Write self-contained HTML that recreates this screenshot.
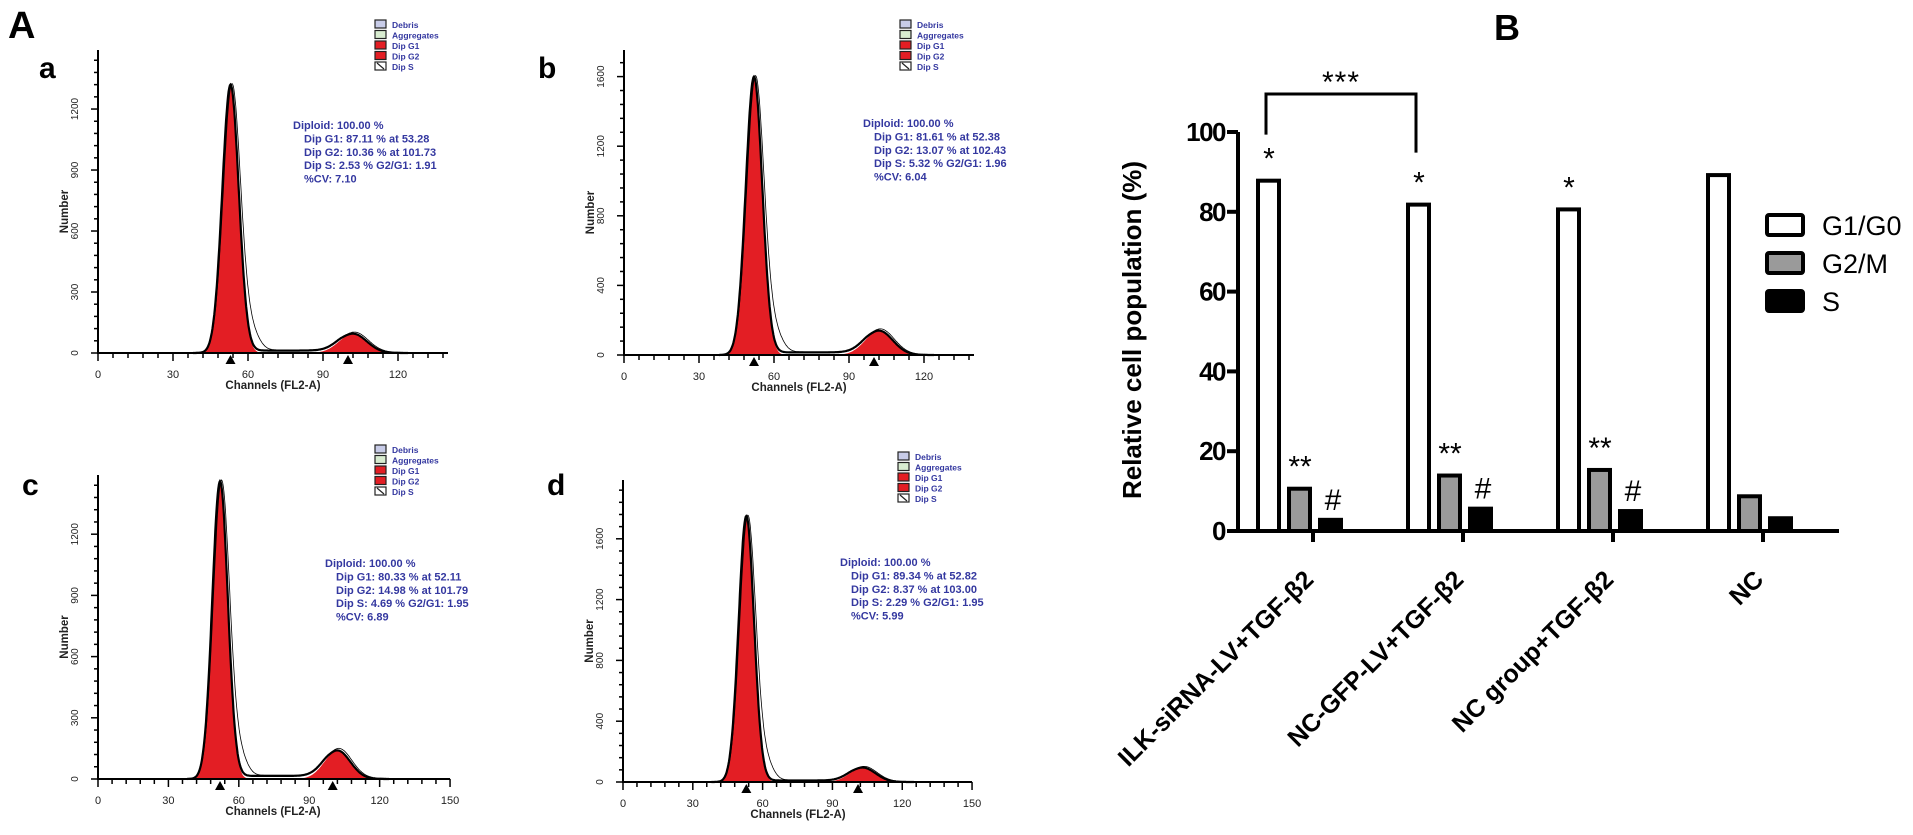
<!DOCTYPE html>
<html><head><meta charset="utf-8"><style>
html,body{margin:0;padding:0;background:#fff;}
svg{display:block;font-family:"Liberation Sans",Arial,sans-serif;}
</style></head><body>
<svg id="fig" width="1913" height="835" viewBox="0 0 1913 835" xmlns="http://www.w3.org/2000/svg">
<text x="8" y="38" font-size="38" font-weight="bold">A</text>
<text x="1494" y="40" font-size="36" font-weight="bold">B</text>
<g id="hists"></g>
<g id="bars"></g>
</svg>
<script>
// ===== Panel B data =====
const groups = ["ILK-siRNA-LV+TGF-β2","NC-GFP-LV+TGF-β2","NC group+TGF-β2","NC"];
const g1g0 = [87.8, 81.8, 80.6, 89.2];
const g2m = [10.6, 13.9, 15.3, 8.7];
const sPhase = [2.8, 5.6, 5.0, 3.2];
const yTicks = [0,20,40,60,80,100];
const g1Marks = ["*","*","*",""];
const g2Marks = ["**","**","**",""];
const sMarks = ["#","#","#",""];

// ===== Panel A data (flow histograms) =====
const panelIds = ["a","b","c","d"];
const g1Peak = [53, 52, 52, 53];
const g1Height = [1320, 1600, 1460, 1750];
const g2Peak = [102, 102, 102, 103];
const g2Height = [95, 140, 140, 95];
const sLevel = [12, 15, 15, 10];
const statsG1 = ["87.11 % at 53.28","81.61 % at 52.38","80.33 % at 52.11","89.34 % at 52.82"];
const statsG2 = ["10.36 % at 101.73","13.07 % at 102.43","14.98 % at 101.79","8.37 % at 103.00"];
const statsS = ["2.53 %","5.32 %","4.69 %","2.29 %"];
const statsRatio = ["1.91","1.96","1.95","1.95"];
const statsCV = ["7.10","6.04","6.89","5.99"];
const yTickSets = [[0,300,600,900,1200],[0,400,800,1200,1600],[0,300,600,900,1200],[0,400,800,1200,1600]];
const xTickSets = [[0,30,60,90,120],[0,30,60,90,120],[0,30,60,90,120,150],[0,30,60,90,120,150]];

const NS="http://www.w3.org/2000/svg";
function mk(tag, attrs, parent, txt){
  const e=document.createElementNS(NS,tag);
  for(const k in attrs) e.setAttribute(k,attrs[k]);
  if(txt!==undefined) e.textContent=txt;
  parent.appendChild(e); return e;
}

// layout (not data)
const layout=[
 {ox:98,oy:353,kx:2.5,ky:0.2033,xmax:140,ytop:50,lx:39,ly:78,sx:293,sy:125,gx:375,gy:20},
 {ox:624,oy:355,kx:2.5,ky:0.174,xmax:140,ytop:50,lx:538,ly:78,sx:863,sy:123,gx:900,gy:20},
 {ox:98,oy:779,kx:2.347,ky:0.204,xmax:150,ytop:475,lx:22,ly:495,sx:325,sy:563,gx:375,gy:445},
 {ox:623,oy:782,kx:2.327,ky:0.152,xmax:150,ytop:480,lx:547,ly:495,sx:840,sy:562,gx:898,gy:452}
];
const hg=document.getElementById('hists');
panelIds.forEach((pid,i)=>{
  const L=layout[i];
  const g=mk('g',{},hg);
  
  
  const X=c=>L.ox+c*L.kx, Y=v=>L.oy-v*L.ky;
  const gau=(c,m,h,s)=>h*Math.exp(-(c-m)*(c-m)/(2*s*s));
  const s1=3.3, s2=5.5;
  const sp=c=>{ if(c<g1Peak[i]||c>g2Peak[i]) return 0;
    const e1=1/(1+Math.exp(-(c-g1Peak[i]-4)*1.2)), e2=1/(1+Math.exp((c-g2Peak[i]+4)*1.0)); return sLevel[i]*e1*e2;};
  let d1='M'+X(g1Peak[i]-14)+','+Y(0);
  for(let c=g1Peak[i]-14;c<=g1Peak[i]+14;c+=0.25) d1+=' L'+X(c).toFixed(1)+','+Y(gau(c,g1Peak[i],g1Height[i],s1)).toFixed(1);
  d1+=' L'+X(g1Peak[i]+14)+','+Y(0)+'Z';
  const p1=mk('path',{d:d1,fill:'#e31e24',stroke:'none'},g);
  
  
  let d2='M'+X(g2Peak[i]-20)+','+Y(0);
  for(let c=g2Peak[i]-20;c<=g2Peak[i]+20;c+=0.5) d2+=' L'+X(c).toFixed(1)+','+Y(gau(c,g2Peak[i],g2Height[i],s2)).toFixed(1);
  d2+=' L'+X(g2Peak[i]+20)+','+Y(0)+'Z';
  const p2=mk('path',{d:d2,fill:'#e31e24',stroke:'none'},g);
  
  
  let dt='';
  for(let c=38;c<=g2Peak[i]+22;c+=0.25){
    const v=gau(c,g1Peak[i],g1Height[i],s1)+gau(c,g2Peak[i],g2Height[i],s2)+sp(c);
    dt+=(dt?' L':'M')+X(c).toFixed(1)+','+Y(v).toFixed(1);
  }
  const pt=mk('path',{d:dt,fill:'none',stroke:'#000','stroke-width':2.2},g);
  
  
  let dr='';
  for(let c=38;c<=g2Peak[i]+22;c+=0.25){
    const v=gau(c,g1Peak[i],g1Height[i],s1*1.05)+gau(c,g1Peak[i]+8,g1Height[i]*0.06,3)+gau(c,g2Peak[i],g2Height[i]*1.05,s2)+sp(c)+3;
    dr+=(dr?' L':'M')+(X(c)+1.5).toFixed(1)+','+Y(v).toFixed(1);
  }
  const pr=mk('path',{d:dr,fill:'none',stroke:'#000','stroke-width':0.8},g);
  
  
  const ax=mk('path',{d:`M${L.ox},${L.ytop} V${L.oy} H${X(L.xmax)}`,fill:'none',stroke:'#000','stroke-width':2},g);
  
  
  const yt=yTickSets[i], step=yt[1]-yt[0];
  for(let v=0; Y(v)>=L.ytop+2; v+=step/5){
    const major=Math.abs(v/step-Math.round(v/step))<1e-6;
    mk('line',{x1:L.ox-(major?7:4),x2:L.ox,y1:Y(v),y2:Y(v),stroke:'#000','stroke-width':1.5},g);
  }
  yt.forEach(v=>{
    const t=mk('text',{x:L.ox-20,y:Y(v),'font-size':10,'text-anchor':'middle',transform:`rotate(-90 ${L.ox-20} ${Y(v)})`,fill:'#222'},g,String(v));
    
    
  });
  for(let c=0;c<=L.xmax;c+=6){
    const major=c%30===0;
    mk('line',{x1:X(c),x2:X(c),y1:L.oy,y2:L.oy+(major?8:5),stroke:'#000','stroke-width':1.5},g);
  }
  xTickSets[i].forEach(c=>{
    const t=mk('text',{x:X(c),y:L.oy+25,'font-size':11,'text-anchor':'middle',fill:'#222'},g,String(c));
    
    
  });
  [g1Peak[i],g2Peak[i]-2].forEach(c=>{
    mk('path',{d:`M${X(c)-5},${L.oy+11} L${X(c)},${L.oy+2} L${X(c)+5},${L.oy+11}Z`,fill:'#000'},g);
  });
  const xl=mk('text',{x:L.ox+175,y:L.oy+36,'font-size':11.5,'font-weight':'bold','text-anchor':'middle',fill:'#222'},g,'Channels (FL2-A)');
  
  
  const ymid=(L.oy+L.ytop)/2+10;
  const yl=mk('text',{x:L.ox-30,y:ymid,'font-size':11.5,'font-weight':'bold','text-anchor':'middle',transform:`rotate(-90 ${L.ox-30} ${ymid})`,fill:'#222'},g,'Number');
  
  
  const pl=mk('text',{x:L.lx,y:L.ly,'font-size':30,'font-weight':'bold'},g,pid);
  
  
  const st=mk('text',{'font-size':11,'font-weight':'bold',fill:'#3438a0'},g);
  
  
  const lines=["Diploid: 100.00 %","Dip G1: "+statsG1[i],"Dip G2: "+statsG2[i],"Dip S: "+statsS[i]+"    G2/G1: "+statsRatio[i],"%CV: "+statsCV[i]];
  lines.forEach((s,k)=>mk('tspan',{x:L.sx+(k?11:0),y:L.sy+4+k*13.4,'xml:space':'preserve'},st,s));
  const lg=mk('g',{},g);
  
  
  const lfill=['#c8cce8','#d8ecd0','#e31e24','#e31e24','#fff'];
  ['Debris','Aggregates','Dip G1','Dip G2','Dip S'].forEach((n,k)=>{
    mk('rect',{x:L.gx,y:L.gy+k*10.5,width:11,height:8,fill:lfill[k],stroke:'#222','stroke-width':1.2},lg);
    if(k===4) mk('line',{x1:L.gx+2,y1:L.gy+k*10.5+1,x2:L.gx+9,y2:L.gy+k*10.5+7,stroke:'#222','stroke-width':1.2},lg);
    mk('text',{x:L.gx+17,y:L.gy+k*10.5+8,'font-size':8.5,'font-weight':'bold',fill:'#3438a0'},lg,n);
  });
});

// ===== Panel B bar chart =====
const bg=document.getElementById('bars');
const axX=1238, y0=531, pxPer=3.99, tick0=1313, grpW=150, xEnd=1839;
const yS=v=>y0-v*pxPer;
const xc=i=>tick0+i*grpW;
const series=[{vals:g1g0,fill:'#fff',off:-57,name:'g1g0'},{vals:g2m,fill:'#9a9a9a',off:-26,name:'g2m'},{vals:sPhase,fill:'#000',off:5,name:'s'}];
series.forEach(s=>{
  s.vals.forEach((v,i)=>{
    const r=mk('rect',{x:xc(i)+s.off+2,y:yS(v),width:21,height:y0-yS(v),fill:s.fill,stroke:'#000','stroke-width':4},bg);
    
    
  });
});
const ax=mk('path',{d:`M${axX},${yS(100)} V${y0} H${xEnd}`,fill:'none',stroke:'#000','stroke-width':4},bg);


yTicks.forEach(v=>{
  mk('line',{x1:axX-11,x2:axX,y1:yS(v),y2:yS(v),stroke:'#000','stroke-width':4},bg);
  const t=mk('text',{x:axX-13,y:yS(v)+9,'font-size':26,'font-weight':'bold','text-anchor':'end','letter-spacing':'-1.5'},bg,String(v));
  
  
});
groups.forEach((gname,i)=>{
  mk('line',{x1:xc(i),x2:xc(i),y1:y0,y2:y0+11,stroke:'#000','stroke-width':4},bg);
  const tx=xc(i)+2, ty=y0+50;
  const t=mk('text',{x:tx,y:ty,'font-size':25,'font-weight':'bold','text-anchor':'end',transform:`rotate(-45 ${tx} ${ty})`},bg,gname);
  
  
});
[[g1g0,g1Marks,-46],[g2m,g2Marks,-15],[sPhase,sMarks,18]].forEach(([vals,marks,off])=>{
  vals.forEach((v,i)=>{
    if(!marks[i]) return;
    const t=mk('text',{x:xc(i)+off+2,y:yS(v)-(marks[i]==='#'?10:12),'font-size':30,'text-anchor':'middle'},bg,marks[i]);
    
    
  });
});
const br=mk('path',{d:`M${xc(0)-47},${yS(g1g0[0])-46} V94 H${xc(1)-47} V${yS(g1g0[1])-52}`,fill:'none',stroke:'#000','stroke-width':3},bg);


const st3=mk('text',{x:(xc(0)+xc(1))/2-47,y:92,'font-size':30,'text-anchor':'middle','letter-spacing':'1'},bg,'***');


const yt=mk('text',{x:1141,y:330,'font-size':26,'font-weight':'bold','text-anchor':'middle',transform:'rotate(-90 1141 330)'},bg,'Relative cell population (%)');


const leg=mk('g',{},bg);


[['G1/G0','#fff'],['G2/M','#9a9a9a'],['S','#000']].forEach(([n,f],k)=>{
  const ry=215+k*38;
  mk('rect',{x:1767,y:ry,width:36,height:20,rx:2,fill:f,stroke:'#000','stroke-width':4},leg);
  const t=mk('text',{x:1822,y:ry+20,'font-size':27},leg,n);
  
  
});
</script>
</body></html>
